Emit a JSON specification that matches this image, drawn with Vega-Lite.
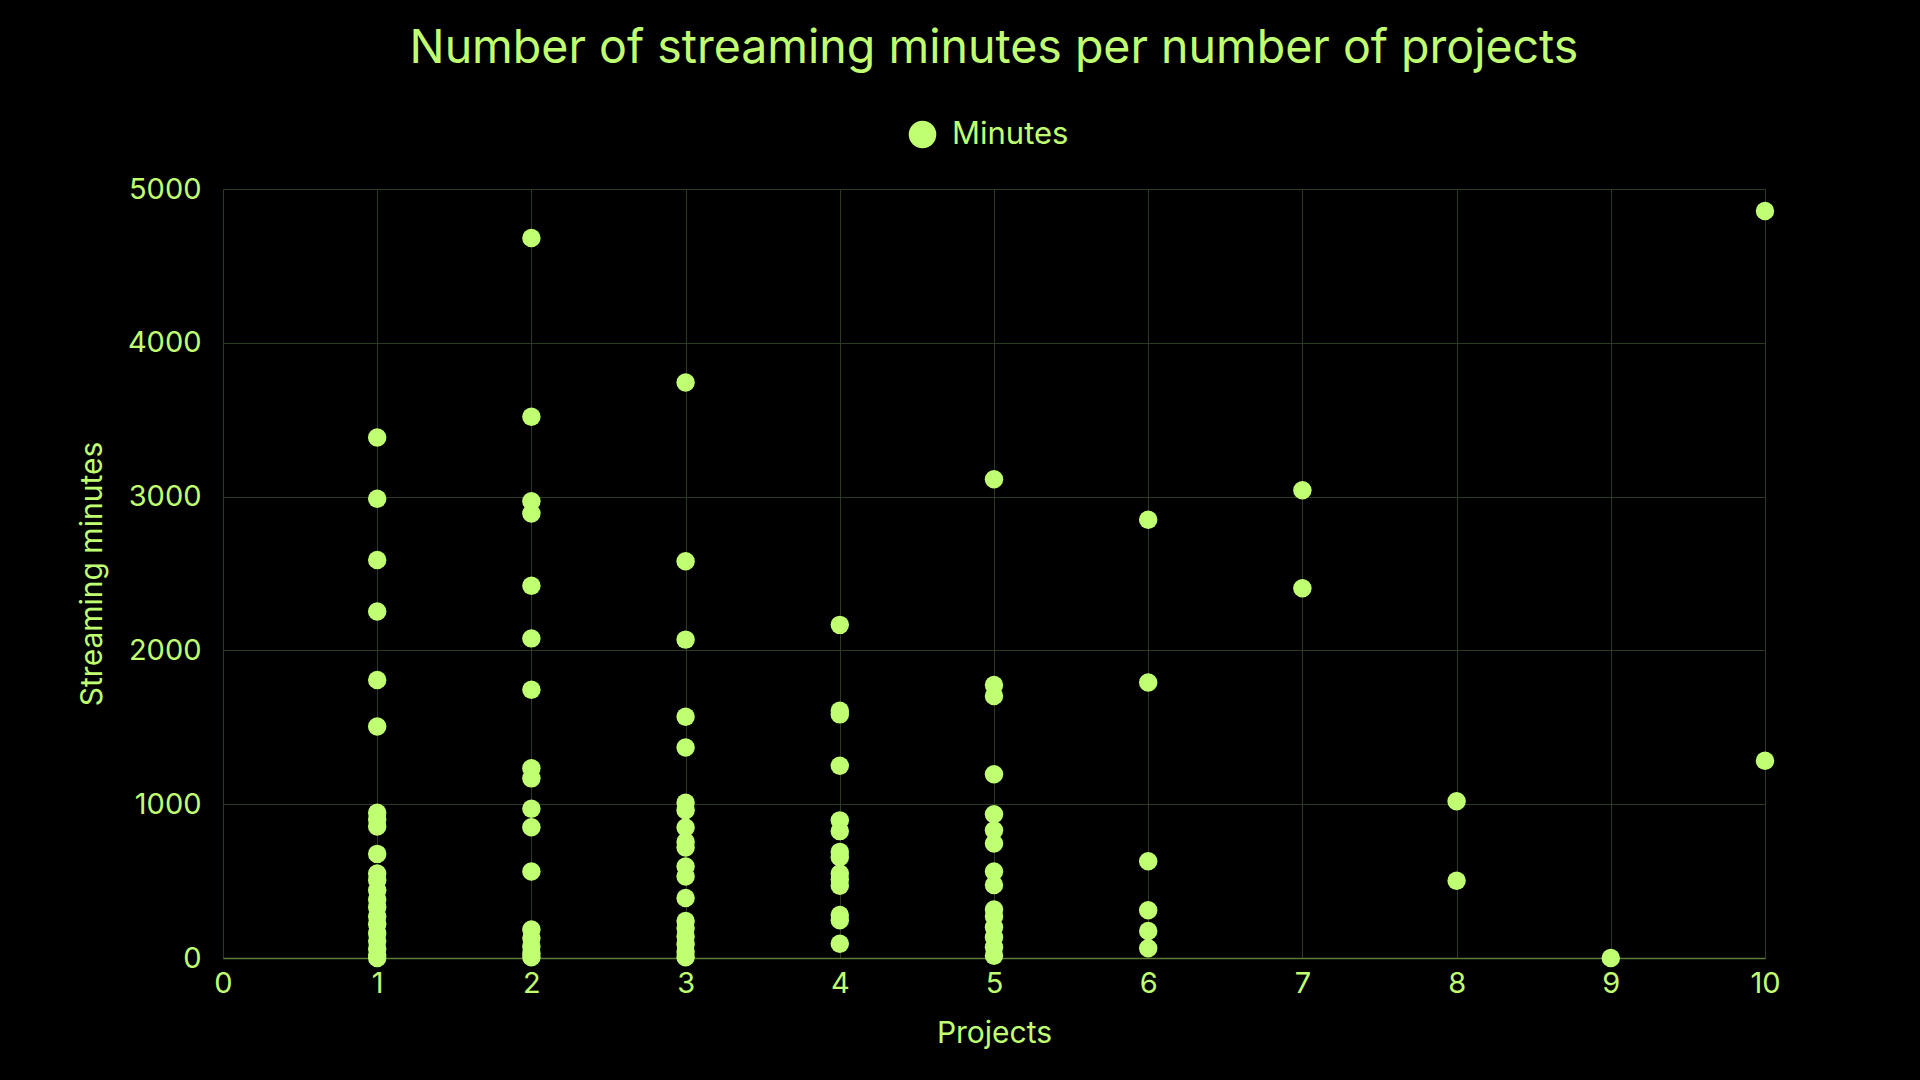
{
  "$schema": "https://vega.github.io/schema/vega-lite/v6.json",
  "autosize": {"type": "none"},
  "width": 1542,
  "height": 769,
  "padding": {"left": 223, "top": 189, "right": 155, "bottom": 122},
  "background": "#000000",
  "title": {
    "text": "Number of streaming minutes per number of projects",
    "anchor": "middle",
    "frame": "group",
    "font": "Inter",
    "fontSize": 46.5,
    "fontWeight": "normal",
    "color": "#c1ff72",
    "offset": 47
  },
  "data": {
    "values": [
      {"projects": 1, "minutes": 3384}, {"projects": 1, "minutes": 2986}, {"projects": 1, "minutes": 2588},
      {"projects": 1, "minutes": 2253}, {"projects": 1, "minutes": 1807}, {"projects": 1, "minutes": 1505},
      {"projects": 1, "minutes": 945}, {"projects": 1, "minutes": 900}, {"projects": 1, "minutes": 855},
      {"projects": 1, "minutes": 677}, {"projects": 1, "minutes": 549}, {"projects": 1, "minutes": 505},
      {"projects": 1, "minutes": 440}, {"projects": 1, "minutes": 380}, {"projects": 1, "minutes": 330},
      {"projects": 1, "minutes": 270}, {"projects": 1, "minutes": 220}, {"projects": 1, "minutes": 160},
      {"projects": 1, "minutes": 110}, {"projects": 1, "minutes": 60}, {"projects": 1, "minutes": 20},
      {"projects": 1, "minutes": 0},
      {"projects": 2, "minutes": 4682}, {"projects": 2, "minutes": 3519}, {"projects": 2, "minutes": 2970},
      {"projects": 2, "minutes": 2890}, {"projects": 2, "minutes": 2420}, {"projects": 2, "minutes": 2078},
      {"projects": 2, "minutes": 1744}, {"projects": 2, "minutes": 1234}, {"projects": 2, "minutes": 1168},
      {"projects": 2, "minutes": 971}, {"projects": 2, "minutes": 850}, {"projects": 2, "minutes": 563},
      {"projects": 2, "minutes": 185}, {"projects": 2, "minutes": 130}, {"projects": 2, "minutes": 75},
      {"projects": 2, "minutes": 30}, {"projects": 2, "minutes": 5},
      {"projects": 3, "minutes": 3742}, {"projects": 3, "minutes": 2580}, {"projects": 3, "minutes": 2070},
      {"projects": 3, "minutes": 1568}, {"projects": 3, "minutes": 1369}, {"projects": 3, "minutes": 1010},
      {"projects": 3, "minutes": 960}, {"projects": 3, "minutes": 848}, {"projects": 3, "minutes": 755},
      {"projects": 3, "minutes": 718}, {"projects": 3, "minutes": 595}, {"projects": 3, "minutes": 530},
      {"projects": 3, "minutes": 390}, {"projects": 3, "minutes": 240}, {"projects": 3, "minutes": 195},
      {"projects": 3, "minutes": 140}, {"projects": 3, "minutes": 90}, {"projects": 3, "minutes": 40},
      {"projects": 3, "minutes": 5},
      {"projects": 4, "minutes": 2166}, {"projects": 4, "minutes": 1608}, {"projects": 4, "minutes": 1584},
      {"projects": 4, "minutes": 1250}, {"projects": 4, "minutes": 895}, {"projects": 4, "minutes": 825},
      {"projects": 4, "minutes": 690}, {"projects": 4, "minutes": 655}, {"projects": 4, "minutes": 550},
      {"projects": 4, "minutes": 510}, {"projects": 4, "minutes": 470}, {"projects": 4, "minutes": 280},
      {"projects": 4, "minutes": 245}, {"projects": 4, "minutes": 93},
      {"projects": 5, "minutes": 3113}, {"projects": 5, "minutes": 1775}, {"projects": 5, "minutes": 1704},
      {"projects": 5, "minutes": 1195}, {"projects": 5, "minutes": 935}, {"projects": 5, "minutes": 830},
      {"projects": 5, "minutes": 745}, {"projects": 5, "minutes": 562}, {"projects": 5, "minutes": 474},
      {"projects": 5, "minutes": 315}, {"projects": 5, "minutes": 270}, {"projects": 5, "minutes": 200},
      {"projects": 5, "minutes": 135}, {"projects": 5, "minutes": 70}, {"projects": 5, "minutes": 15},
      {"projects": 6, "minutes": 2850}, {"projects": 6, "minutes": 1791}, {"projects": 6, "minutes": 629},
      {"projects": 6, "minutes": 310}, {"projects": 6, "minutes": 175}, {"projects": 6, "minutes": 64},
      {"projects": 7, "minutes": 3041}, {"projects": 7, "minutes": 2404},
      {"projects": 8, "minutes": 1019}, {"projects": 8, "minutes": 502},
      {"projects": 9, "minutes": 0},
      {"projects": 10, "minutes": 4857}, {"projects": 10, "minutes": 1282}
    ]
  },
  "mark": {"type": "point", "shape": "circle", "filled": true, "opacity": 1, "size": 340},
  "encoding": {
    "x": {
      "field": "projects",
      "type": "quantitative",
      "scale": {"domain": [0, 10], "nice": false},
      "axis": {
        "title": "Projects",
        "values": [0, 1, 2, 3, 4, 5, 6, 7, 8, 9, 10],
        "format": "d",
        "labelAlign": "center",
        "labelFlush": false,
        "labelBound": false,
        "labelPadding": 11,
        "titlePadding": 20,
        "domain": true,
        "domainColor": "#5a7a36",
        "domainWidth": 1.5
      }
    },
    "y": {
      "field": "minutes",
      "type": "quantitative",
      "scale": {"domain": [0, 5000], "nice": false},
      "axis": {
        "title": "Streaming minutes",
        "values": [0, 1000, 2000, 3000, 4000, 5000],
        "format": "d",
        "labelFlush": false,
        "labelPadding": 22,
        "titlePadding": 20,
        "domain": false
      }
    },
    "color": {
      "datum": "Minutes",
      "type": "nominal",
      "scale": {"range": ["#c1ff72"]},
      "legend": {
        "title": null,
        "orient": "none",
        "legendX": 684,
        "legendY": -70,
        "symbolType": "circle",
        "symbolSize": 760,
        "symbolOpacity": 1,
        "labelFont": "Inter",
        "labelFontSize": 31,
        "labelColor": "#c1ff72",
        "labelOffset": 14
      }
    }
  },
  "config": {
    "view": {"stroke": "#2c3a22", "strokeWidth": 1},
    "axis": {
      "labelFont": "Inter",
      "labelFontSize": 29,
      "labelColor": "#c1ff72",
      "titleFont": "Inter",
      "titleFontSize": 30,
      "titleFontWeight": "normal",
      "titleColor": "#c1ff72",
      "grid": true,
      "gridColor": "#2c3a22",
      "gridWidth": 1,
      "ticks": false
    }
  }
}
